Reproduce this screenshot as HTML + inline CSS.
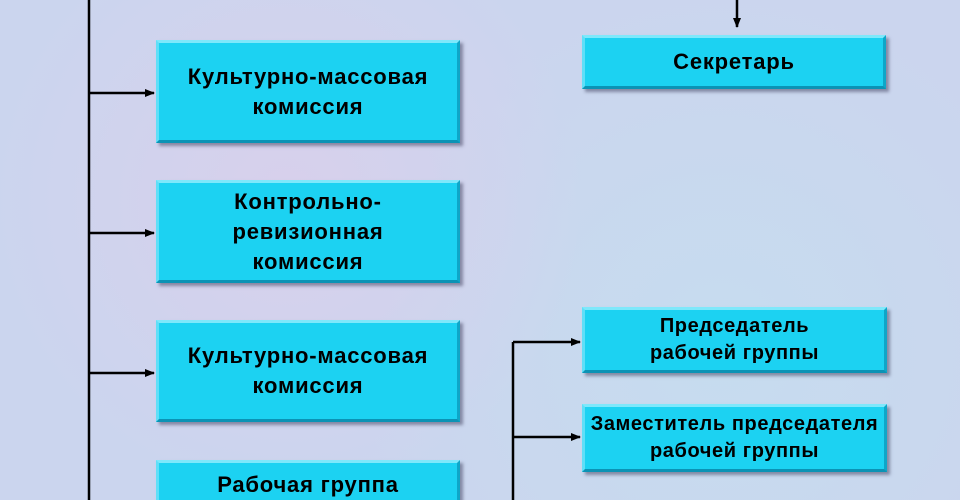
<!DOCTYPE html>
<html><head><meta charset="utf-8"><style>
html,body{margin:0;width:960px;height:500px;overflow:hidden;}
body{background:#cdd6ee;position:relative;font-family:"Liberation Sans","DejaVu Sans",sans-serif;}
.bg{position:absolute;inset:0;background:radial-gradient(circle at 30% 40%,#d8d0ec 0,transparent 40%),radial-gradient(circle at 75% 70%,#c6dcef 0,transparent 45%),#cbd5ee;}
.b{position:absolute;background:#1cd2f2;box-sizing:border-box;border-top:3px solid #7ee8fb;border-left:3px solid #5fdff8;border-right:3px solid #0ea6c8;border-bottom:3px solid #0b93b5;box-shadow:3px 3px 3px rgba(60,60,90,.5);display:flex;align-items:center;justify-content:center;text-align:center;font-weight:bold;color:#000;font-size:22px;letter-spacing:0.8px;line-height:30px;white-space:nowrap;}
.s{font-size:20px;line-height:27px;letter-spacing:0.6px}
</style></head><body><div class="bg"></div>
<svg width="960" height="500" style="position:absolute;left:0;top:0">
<defs><marker id="a" markerWidth="10" markerHeight="8" refX="9" refY="4" orient="auto" markerUnits="userSpaceOnUse"><path d="M0,0L10,4L0,8z" fill="#000"/></marker></defs>
<g stroke="#000" stroke-width="2.5" fill="none">
<line x1="89" y1="0" x2="89" y2="500"/>
<line x1="89" y1="93" x2="154" y2="93" marker-end="url(#a)"/>
<line x1="89" y1="233" x2="154" y2="233" marker-end="url(#a)"/>
<line x1="89" y1="373" x2="154" y2="373" marker-end="url(#a)"/>
<line x1="513" y1="342" x2="513" y2="500"/>
<line x1="513" y1="342" x2="580" y2="342" marker-end="url(#a)"/>
<line x1="513" y1="437" x2="580" y2="437" marker-end="url(#a)"/>
<line x1="737" y1="0" x2="737" y2="27" marker-end="url(#a)"/>
</g></svg>
<div class="b" style="left:156px;top:40px;width:304px;height:103px">Культурно-массовая<br>комиссия</div>
<div class="b" style="left:156px;top:180px;width:304px;height:103px">Контрольно-<br>ревизионная<br>комиссия</div>
<div class="b" style="left:156px;top:320px;width:304px;height:102px">Культурно-массовая<br>комиссия</div>
<div class="b" style="left:156px;top:460px;width:304px;height:60px;align-items:flex-start;padding-top:7px">Рабочая группа</div>
<div class="b" style="left:582px;top:35px;width:304px;height:54px">Секретарь</div>
<div class="b s" style="left:582px;top:307px;width:305px;height:66px">Председатель<br>рабочей группы</div>
<div class="b s" style="left:582px;top:404px;width:305px;height:68px">Заместитель председателя<br>рабочей группы</div>
</body></html>
